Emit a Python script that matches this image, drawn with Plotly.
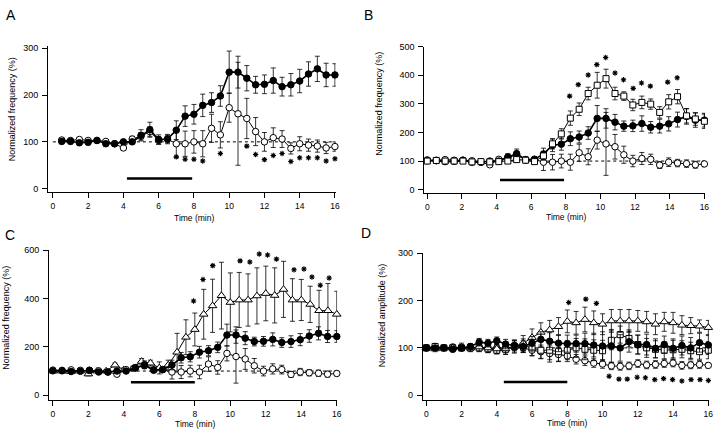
import plotly.graph_objects as go

# time grids
t_a = [0.5, 1.0, 1.5, 2.0, 2.5, 3.0, 3.5, 4.0, 4.5, 5.0, 5.5, 6.0, 6.5, 7.0, 7.5, 8.0,
       8.5, 9.0, 9.5, 10.0, 10.5, 11.0, 11.5, 12.0, 12.5, 13.0, 13.5, 14.0, 14.5, 15.0, 15.5, 16.0]
t_bc = [0.0, 0.52, 1.03, 1.55, 2.06, 2.58, 3.1, 3.61, 4.13, 4.65, 5.16, 5.68, 6.19, 6.71, 7.23, 7.74,
        8.26, 8.77, 9.29, 9.81, 10.32, 10.84, 11.35, 11.87, 12.39, 12.9, 13.42, 13.94, 14.45, 14.97, 15.48, 16.0]
t_half = [0.0, 0.5, 1.0, 1.5, 2.0, 2.5, 3.0, 3.5, 4.0, 4.5, 5.0, 5.5, 6.0, 6.5, 7.0, 7.5, 8.0,
          8.5, 9.0, 9.5, 10.0, 10.5, 11.0, 11.5, 12.0, 12.5, 13.0, 13.5, 14.0, 14.5, 15.0, 15.5, 16.0]

# control (filled) and open circle series, shared by A, B, C
filled = [101, 101, 98, 99, 103, 96, 96, 100, 100, 114, 126, 105, 106, 125, 155, 159,
          178, 184, 198, 249, 249, 236, 222, 223, 231, 218, 222, 230, 245, 256, 243, 243]
filled_err = [5, 5, 5, 5, 4, 5, 5, 5, 5, 12, 16, 10, 10, 20, 22, 21,
              24, 21, 22, 45, 34, 27, 18, 20, 27, 20, 24, 25, 26, 27, 25, 24]
opencirc = [104, 103, 105, 103, 103, 101, 96, 87, 106, 112, 122, 103, 106, 96, 96, 100,
            96, 129, 115, 173, 160, 150, 122, 100, 109, 106, 86, 96, 93, 91, 87, 90]
opencirc_err = [4, 4, 4, 4, 4, 4, 5, 5, 6, 8, 10, 8, 8, 29, 27, 24,
                28, 30, 28, 31, 110, 43, 30, 20, 21, 18, 12, 15, 13, 13, 12, 10]

# B squares
sq_b = [100, 102, 100, 100, 100, 97, 98, 97, 98, 100, 105, 103, 98, 118, 160, 195,
        250, 281, 336, 365, 388, 336, 327, 296, 305, 299, 270, 307, 325, 258, 247, 239]
sq_b_err = [5, 5, 5, 5, 5, 5, 5, 5, 5, 6, 8, 8, 10, 15, 18, 18,
            25, 22, 22, 45, 33, 22, 15, 20, 22, 18, 20, 25, 25, 25, 22, 25]

# C triangles
tri_c = [100, 100, 98, 100, 88, 100, 100, 125, 105, 110, 140, 133, 113, 125, 178, 240, 272,
         335, 370, 412, 384, 394, 394, 411, 421, 413, 438, 394, 394, 376, 350, 350, 335]
tri_c_err = [6, 6, 6, 6, 8, 6, 6, 8, 8, 10, 12, 12, 25, 20, 78, 72, 68,
             103, 110, 138, 122, 114, 108, 116, 113, 114, 116, 88, 85, 75, 84, 112, 95]

# D amplitude series
tri_d = [100, 98, 100, 100, 102, 100, 102, 100, 98, 98, 103, 110, 122, 133, 138, 145, 156,
         153, 160, 153, 150, 157, 157, 157, 157, 155, 150, 155, 153, 148, 147, 146, 143]
tri_d_err = [6, 6, 6, 6, 8, 8, 10, 10, 10, 12, 14, 16, 18, 20, 20, 19, 24,
             24, 26, 25, 22, 24, 24, 24, 22, 22, 22, 20, 22, 20, 17, 13, 15]
fill_d = [100, 100, 100, 97, 100, 103, 112, 110, 115, 108, 105, 103, 110, 118, 114, 110, 109,
          109, 109, 106, 104, 104, 100, 113, 107, 107, 99, 107, 99, 105, 100, 111, 106]
fill_d_err = [5, 5, 5, 5, 6, 6, 8, 8, 8, 10, 10, 12, 14, 16, 18, 18, 18,
              18, 22, 25, 30, 35, 28, 22, 20, 22, 20, 18, 20, 20, 22, 20, 20]
sq_d = [100, 103, 100, 100, 100, 100, 100, 98, 95, 97, 103, 105, 100, 95, 95, 92, 95,
        100, 97, 95, 94, 116, 128, 120, 107, 100, 97, 95, 96, 97, 94, 92, 95]
sq_d_err = [5, 5, 5, 5, 6, 6, 6, 8, 8, 10, 12, 14, 16, 18, 20, 20, 20,
            20, 22, 22, 22, 20, 18, 18, 20, 20, 18, 18, 20, 18, 18, 16, 18]
open_d = [100, 103, 100, 102, 100, 100, 100, 98, 100, 100, 102, 100, 95, 92, 88, 86, 83,
          76, 73, 68, 66, 62, 61, 62, 67, 64, 65, 67, 68, 63, 64, 65, 63]
open_d_err = [5, 5, 5, 5, 5, 5, 6, 6, 6, 8, 8, 10, 12, 14, 18, 15, 12,
              10, 10, 9, 9, 8, 8, 8, 8, 8, 8, 8, 8, 8, 8, 8, 6]

# significance asterisks
star_a_t = [7.0, 7.5, 8.0, 8.5, 9.5, 11.0, 11.5, 12.0, 12.5, 13.0, 13.5, 14.0, 14.5, 15.0, 15.5, 16.0]
star_a_y = [68, 63, 63, 59, 75, 91, 73, 62, 71, 75, 58, 66, 66, 66, 59, 64]
star_b_t = [8.22, 8.72, 9.29, 9.79, 10.3, 10.84, 11.33, 11.89, 12.37, 12.88, 13.88, 14.43]
star_b_y = [327, 367, 401, 437, 462, 408, 384, 354, 373, 362, 376, 391]
star_c_t = [7.93, 8.46, 9.01, 10.55, 11.1, 11.63, 12.1, 12.6, 13.07, 13.59, 14.15, 14.6, 15.07, 15.57]
star_c_y = [390, 479, 536, 556, 551, 584, 580, 563, 608, 519, 522, 489, 455, 485]
star_d_t = [8.08, 9.05, 9.65, 10.37, 10.93, 11.4, 11.96, 12.43, 12.96, 13.46, 13.97, 14.5, 15.02, 15.53, 16.0]
star_d_y = [196, 203, 194, 40, 34, 34, 38, 37, 33, 35, 33, 30, 33, 33, 31]

# drug application bars (start, end, level)
bar_a = ([4.2, 7.9], 22)
bar_b = ([4.2, 7.9], 34)
bar_c = ([4.4, 8.0], 54)
bar_d = ([4.4, 8.0], 28)

baseline = 100
baseline_span = [0, 16]
x_ticks = [0, 2, 4, 6, 8, 10, 12, 14, 16]

FONT = "Liberation Sans, Arial, sans-serif"
W, H = 720, 430

fig = go.Figure()


def series(ax, x, y, err, symbol, fill, size=6.5, lw=1.0):
    fig.add_trace(go.Scatter(
        x=x, y=y, mode="lines+markers",
        xaxis="x" + ax, yaxis="y" + ax,
        line=dict(color="black", width=lw),
        marker=dict(symbol=symbol, size=size, color="black" if fill else "white",
                    line=dict(color="black", width=1)),
        error_y=dict(type="data", array=err, color="black", thickness=0.8, width=2.5),
        showlegend=False, cliponaxis=False))


def extras(ax, bar, st_t, st_y):
    fig.add_trace(go.Scatter(x=baseline_span, y=[baseline, baseline], mode="lines",
                             xaxis="x" + ax, yaxis="y" + ax,
                             line=dict(color="black", width=1, dash="dot"), showlegend=False))
    fig.add_trace(go.Scatter(x=bar[0], y=[bar[1], bar[1]], mode="lines",
                             xaxis="x" + ax, yaxis="y" + ax,
                             line=dict(color="black", width=2.5), showlegend=False))
    fig.add_trace(go.Scatter(x=st_t, y=st_y, mode="markers", xaxis="x" + ax, yaxis="y" + ax,
                             marker=dict(symbol="asterisk-open", size=4.5, color="black",
                                         line=dict(color="black", width=1.1)),
                             showlegend=False, cliponaxis=False))


# A
extras("", bar_a, star_a_t, star_a_y)
series("", t_a, opencirc, opencirc_err, "circle", False)
series("", t_a, filled, filled_err, "circle", True, lw=1.6)
# B
extras("2", bar_b, star_b_t, star_b_y)
series("2", t_bc, opencirc, opencirc_err, "circle", False)
series("2", t_bc, filled, filled_err, "circle", True, lw=1.6)
series("2", t_bc, sq_b, sq_b_err, "square", False, size=6)
# C
extras("3", bar_c, star_c_t, star_c_y)
series("3", t_half, tri_c, tri_c_err, "triangle-up", False, size=7.5)
series("3", t_bc, opencirc, opencirc_err, "circle", False)
series("3", t_bc, filled, filled_err, "circle", True, lw=1.6)
# D
extras("4", bar_d, star_d_t, star_d_y)
series("4", t_half, open_d, open_d_err, "circle", False)
series("4", t_half, sq_d, sq_d_err, "square", False, size=6)
series("4", t_half, tri_d, tri_d_err, "triangle-up", False, size=7.5)
series("4", t_half, fill_d, fill_d_err, "circle", True, lw=1.6)


def px(x0, x1):
    return [x0 / W, x1 / W]


def py(ytop, ybot):
    return [1 - ybot / H, 1 - ytop / H]


tick_common = dict(showline=True, linecolor="black", linewidth=1, ticks="outside",
                   ticklen=5, tickwidth=1, tickcolor="black", showgrid=False, zeroline=False,
                   tickfont=dict(family=FONT, size=9, color="black"))
xax = dict(tick_common, tickvals=x_ticks, ticklabelstandoff=1,
           tickfont=dict(family=FONT, size=8.5, color="black"))
yax = dict(tick_common, ticklabelstandoff=2)

fig.update_layout(
    width=W, height=H, margin=dict(l=0, r=0, t=0, b=0),
    paper_bgcolor="white", plot_bgcolor="white",
    xaxis=dict(xax, domain=px(48.3, 338), range=[-0.28, 16.04], anchor="y"),
    yaxis=dict(yax, domain=py(41.7, 190), range=[-6.9, 304.8], tickvals=[0, 100, 200, 300], anchor="x"),
    xaxis2=dict(xax, domain=px(427.3, 710), range=[-0.17, 16.04], anchor="y2"),
    yaxis2=dict(yax, domain=py(42.3, 191), range=[-11.3, 500], tickvals=[0, 100, 200, 300, 400, 500], anchor="x2"),
    xaxis3=dict(xax, domain=px(49.3, 339.5), range=[-0.22, 16.02], anchor="y3"),
    yaxis3=dict(yax, domain=py(249, 401.7), range=[-20.4, 601], tickvals=[0, 200, 400, 600], anchor="x3"),
    xaxis4=dict(xax, domain=px(425.7, 714), range=[-0.2, 16.04], anchor="y4"),
    yaxis4=dict(yax, domain=py(252, 401.7), range=[-10.4, 300.6], tickvals=[0, 100, 200, 300], anchor="x4"),
)

ann = []
for letter, x, y in [("A", 11, 10), ("B", 371, 10), ("C", 10, 234), ("D", 369, 232)]:
    ann.append(dict(text=letter, x=x / W, y=1 - y / H, xref="paper", yref="paper",
                    xanchor="center", yanchor="middle",
                    showarrow=False, font=dict(family=FONT, size=14, color="black")))
for txt, x, y in [("Normalized frequency (%)", 12, 106), ("Normalized frequency (%)", 382, 100),
                  ("Normalized frequency (%)", 6, 318), ("Normalized amplitude (%)", 385, 315)]:
    ann.append(dict(text=txt, x=x / W, y=1 - y / H, xref="paper", yref="paper", textangle=-90,
                    xanchor="center", yanchor="middle",
                    showarrow=False, font=dict(family=FONT, size=9, color="black")))
for x, y in [(195, 216.5), (570, 215.5), (196, 425.5), (571, 424.5)]:
    ann.append(dict(text="Time (min)", x=x / W, y=1 - y / H, xref="paper", yref="paper",
                    xanchor="center", yanchor="middle",
                    showarrow=False, font=dict(family=FONT, size=8.5, color="black")))
fig.update_layout(annotations=ann)

# page body has an 8px default margin; drop it so the figure sits at the window corner
fig.write_html("out.html", config={"displayModeBar": False},
               post_script="document.body.style.margin='0';")
